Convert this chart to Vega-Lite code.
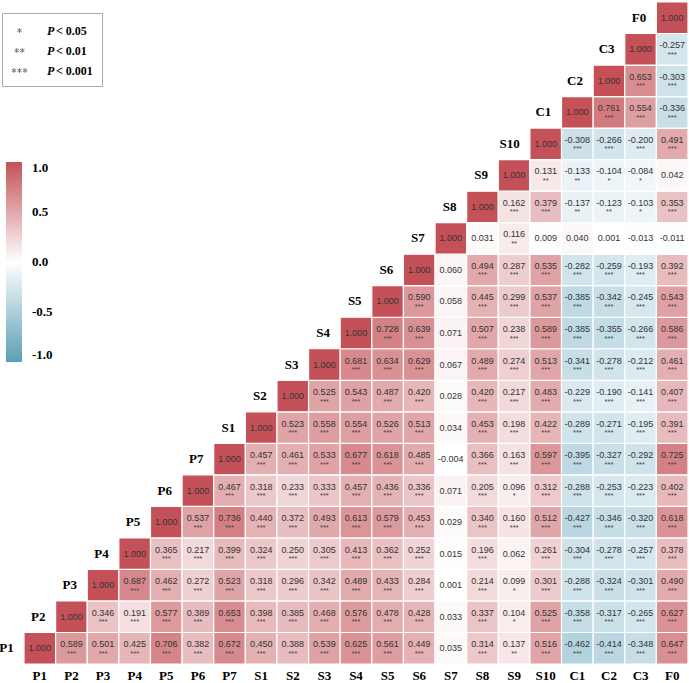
{
  "$schema": "https://vega.github.io/schema/vega-lite/v6.json",
  "width": 664,
  "height": 662,
  "autosize": {"type": "none"},
  "padding": {"left": 24, "top": 2, "right": 1, "bottom": 19},
  "background": "white",
  "config": {"view": {"stroke": null}},
  "layer": [
    {
      "data": {"values": [
        {"r":"P1","c":"P1","v":1,"s":""},{"r":"P1","c":"P2","v":0.589,"s":"***"},{"r":"P1","c":"P3","v":0.501,"s":"***"},{"r":"P1","c":"P4","v":0.425,"s":"***"},{"r":"P1","c":"P5","v":0.706,"s":"***"},{"r":"P1","c":"P6","v":0.382,"s":"***"},{"r":"P1","c":"P7","v":0.672,"s":"***"},{"r":"P1","c":"S1","v":0.450,"s":"***"},{"r":"P1","c":"S2","v":0.388,"s":"***"},{"r":"P1","c":"S3","v":0.539,"s":"***"},{"r":"P1","c":"S4","v":0.625,"s":"***"},{"r":"P1","c":"S5","v":0.561,"s":"***"},{"r":"P1","c":"S6","v":0.449,"s":"***"},{"r":"P1","c":"S7","v":0.035,"s":""},{"r":"P1","c":"S8","v":0.314,"s":"***"},{"r":"P1","c":"S9","v":0.137,"s":"**"},{"r":"P1","c":"S10","v":0.516,"s":"***"},{"r":"P1","c":"C1","v":-0.462,"s":"***"},{"r":"P1","c":"C2","v":-0.414,"s":"***"},{"r":"P1","c":"C3","v":-0.348,"s":"***"},{"r":"P1","c":"F0","v":0.647,"s":"***"},
        {"r":"P2","c":"P2","v":1,"s":""},{"r":"P2","c":"P3","v":0.346,"s":"***"},{"r":"P2","c":"P4","v":0.191,"s":"***"},{"r":"P2","c":"P5","v":0.577,"s":"***"},{"r":"P2","c":"P6","v":0.389,"s":"***"},{"r":"P2","c":"P7","v":0.653,"s":"***"},{"r":"P2","c":"S1","v":0.398,"s":"***"},{"r":"P2","c":"S2","v":0.385,"s":"***"},{"r":"P2","c":"S3","v":0.468,"s":"***"},{"r":"P2","c":"S4","v":0.576,"s":"***"},{"r":"P2","c":"S5","v":0.478,"s":"***"},{"r":"P2","c":"S6","v":0.428,"s":"***"},{"r":"P2","c":"S7","v":0.033,"s":""},{"r":"P2","c":"S8","v":0.337,"s":"***"},{"r":"P2","c":"S9","v":0.104,"s":"*"},{"r":"P2","c":"S10","v":0.525,"s":"***"},{"r":"P2","c":"C1","v":-0.358,"s":"***"},{"r":"P2","c":"C2","v":-0.317,"s":"***"},{"r":"P2","c":"C3","v":-0.265,"s":"***"},{"r":"P2","c":"F0","v":0.627,"s":"***"},
        {"r":"P3","c":"P3","v":1,"s":""},{"r":"P3","c":"P4","v":0.687,"s":"***"},{"r":"P3","c":"P5","v":0.462,"s":"***"},{"r":"P3","c":"P6","v":0.272,"s":"***"},{"r":"P3","c":"P7","v":0.523,"s":"***"},{"r":"P3","c":"S1","v":0.318,"s":"***"},{"r":"P3","c":"S2","v":0.296,"s":"***"},{"r":"P3","c":"S3","v":0.342,"s":"***"},{"r":"P3","c":"S4","v":0.489,"s":"***"},{"r":"P3","c":"S5","v":0.433,"s":"***"},{"r":"P3","c":"S6","v":0.284,"s":"***"},{"r":"P3","c":"S7","v":0.001,"s":""},{"r":"P3","c":"S8","v":0.214,"s":"***"},{"r":"P3","c":"S9","v":0.099,"s":"*"},{"r":"P3","c":"S10","v":0.301,"s":"***"},{"r":"P3","c":"C1","v":-0.288,"s":"***"},{"r":"P3","c":"C2","v":-0.324,"s":"***"},{"r":"P3","c":"C3","v":-0.301,"s":"***"},{"r":"P3","c":"F0","v":0.490,"s":"***"},
        {"r":"P4","c":"P4","v":1,"s":""},{"r":"P4","c":"P5","v":0.365,"s":"***"},{"r":"P4","c":"P6","v":0.217,"s":"***"},{"r":"P4","c":"P7","v":0.399,"s":"***"},{"r":"P4","c":"S1","v":0.324,"s":"***"},{"r":"P4","c":"S2","v":0.250,"s":"***"},{"r":"P4","c":"S3","v":0.305,"s":"***"},{"r":"P4","c":"S4","v":0.413,"s":"***"},{"r":"P4","c":"S5","v":0.362,"s":"***"},{"r":"P4","c":"S6","v":0.252,"s":"***"},{"r":"P4","c":"S7","v":0.015,"s":""},{"r":"P4","c":"S8","v":0.196,"s":"***"},{"r":"P4","c":"S9","v":0.062,"s":""},{"r":"P4","c":"S10","v":0.261,"s":"***"},{"r":"P4","c":"C1","v":-0.304,"s":"***"},{"r":"P4","c":"C2","v":-0.278,"s":"***"},{"r":"P4","c":"C3","v":-0.257,"s":"***"},{"r":"P4","c":"F0","v":0.378,"s":"***"},
        {"r":"P5","c":"P5","v":1,"s":""},{"r":"P5","c":"P6","v":0.537,"s":"***"},{"r":"P5","c":"P7","v":0.736,"s":"***"},{"r":"P5","c":"S1","v":0.440,"s":"***"},{"r":"P5","c":"S2","v":0.372,"s":"***"},{"r":"P5","c":"S3","v":0.493,"s":"***"},{"r":"P5","c":"S4","v":0.613,"s":"***"},{"r":"P5","c":"S5","v":0.579,"s":"***"},{"r":"P5","c":"S6","v":0.453,"s":"***"},{"r":"P5","c":"S7","v":0.029,"s":""},{"r":"P5","c":"S8","v":0.340,"s":"***"},{"r":"P5","c":"S9","v":0.160,"s":"***"},{"r":"P5","c":"S10","v":0.512,"s":"***"},{"r":"P5","c":"C1","v":-0.427,"s":"***"},{"r":"P5","c":"C2","v":-0.346,"s":"***"},{"r":"P5","c":"C3","v":-0.320,"s":"***"},{"r":"P5","c":"F0","v":0.618,"s":"***"},
        {"r":"P6","c":"P6","v":1,"s":""},{"r":"P6","c":"P7","v":0.467,"s":"***"},{"r":"P6","c":"S1","v":0.318,"s":"***"},{"r":"P6","c":"S2","v":0.233,"s":"***"},{"r":"P6","c":"S3","v":0.333,"s":"***"},{"r":"P6","c":"S4","v":0.457,"s":"***"},{"r":"P6","c":"S5","v":0.436,"s":"***"},{"r":"P6","c":"S6","v":0.336,"s":"***"},{"r":"P6","c":"S7","v":0.071,"s":""},{"r":"P6","c":"S8","v":0.205,"s":"***"},{"r":"P6","c":"S9","v":0.096,"s":"*"},{"r":"P6","c":"S10","v":0.312,"s":"***"},{"r":"P6","c":"C1","v":-0.288,"s":"***"},{"r":"P6","c":"C2","v":-0.253,"s":"***"},{"r":"P6","c":"C3","v":-0.223,"s":"***"},{"r":"P6","c":"F0","v":0.402,"s":"***"},
        {"r":"P7","c":"P7","v":1,"s":""},{"r":"P7","c":"S1","v":0.457,"s":"***"},{"r":"P7","c":"S2","v":0.461,"s":"***"},{"r":"P7","c":"S3","v":0.533,"s":"***"},{"r":"P7","c":"S4","v":0.677,"s":"***"},{"r":"P7","c":"S5","v":0.618,"s":"***"},{"r":"P7","c":"S6","v":0.485,"s":"***"},{"r":"P7","c":"S7","v":-0.004,"s":""},{"r":"P7","c":"S8","v":0.366,"s":"***"},{"r":"P7","c":"S9","v":0.163,"s":"***"},{"r":"P7","c":"S10","v":0.597,"s":"***"},{"r":"P7","c":"C1","v":-0.395,"s":"***"},{"r":"P7","c":"C2","v":-0.327,"s":"***"},{"r":"P7","c":"C3","v":-0.292,"s":"***"},{"r":"P7","c":"F0","v":0.725,"s":"***"},
        {"r":"S1","c":"S1","v":1,"s":""},{"r":"S1","c":"S2","v":0.523,"s":"***"},{"r":"S1","c":"S3","v":0.558,"s":"***"},{"r":"S1","c":"S4","v":0.554,"s":"***"},{"r":"S1","c":"S5","v":0.526,"s":"***"},{"r":"S1","c":"S6","v":0.513,"s":"***"},{"r":"S1","c":"S7","v":0.034,"s":""},{"r":"S1","c":"S8","v":0.453,"s":"***"},{"r":"S1","c":"S9","v":0.198,"s":"***"},{"r":"S1","c":"S10","v":0.422,"s":"***"},{"r":"S1","c":"C1","v":-0.289,"s":"***"},{"r":"S1","c":"C2","v":-0.271,"s":"***"},{"r":"S1","c":"C3","v":-0.195,"s":"***"},{"r":"S1","c":"F0","v":0.391,"s":"***"},
        {"r":"S2","c":"S2","v":1,"s":""},{"r":"S2","c":"S3","v":0.525,"s":"***"},{"r":"S2","c":"S4","v":0.543,"s":"***"},{"r":"S2","c":"S5","v":0.487,"s":"***"},{"r":"S2","c":"S6","v":0.420,"s":"***"},{"r":"S2","c":"S7","v":0.028,"s":""},{"r":"S2","c":"S8","v":0.420,"s":"***"},{"r":"S2","c":"S9","v":0.217,"s":"***"},{"r":"S2","c":"S10","v":0.483,"s":"***"},{"r":"S2","c":"C1","v":-0.229,"s":"***"},{"r":"S2","c":"C2","v":-0.190,"s":"***"},{"r":"S2","c":"C3","v":-0.141,"s":"***"},{"r":"S2","c":"F0","v":0.407,"s":"***"},
        {"r":"S3","c":"S3","v":1,"s":""},{"r":"S3","c":"S4","v":0.681,"s":"***"},{"r":"S3","c":"S5","v":0.634,"s":"***"},{"r":"S3","c":"S6","v":0.629,"s":"***"},{"r":"S3","c":"S7","v":0.067,"s":""},{"r":"S3","c":"S8","v":0.489,"s":"***"},{"r":"S3","c":"S9","v":0.274,"s":"***"},{"r":"S3","c":"S10","v":0.513,"s":"***"},{"r":"S3","c":"C1","v":-0.341,"s":"***"},{"r":"S3","c":"C2","v":-0.278,"s":"***"},{"r":"S3","c":"C3","v":-0.212,"s":"***"},{"r":"S3","c":"F0","v":0.461,"s":"***"},
        {"r":"S4","c":"S4","v":1,"s":""},{"r":"S4","c":"S5","v":0.728,"s":"***"},{"r":"S4","c":"S6","v":0.639,"s":"***"},{"r":"S4","c":"S7","v":0.071,"s":""},{"r":"S4","c":"S8","v":0.507,"s":"***"},{"r":"S4","c":"S9","v":0.238,"s":"***"},{"r":"S4","c":"S10","v":0.589,"s":"***"},{"r":"S4","c":"C1","v":-0.385,"s":"***"},{"r":"S4","c":"C2","v":-0.355,"s":"***"},{"r":"S4","c":"C3","v":-0.266,"s":"***"},{"r":"S4","c":"F0","v":0.586,"s":"***"},
        {"r":"S5","c":"S5","v":1,"s":""},{"r":"S5","c":"S6","v":0.590,"s":"***"},{"r":"S5","c":"S7","v":0.058,"s":""},{"r":"S5","c":"S8","v":0.445,"s":"***"},{"r":"S5","c":"S9","v":0.299,"s":"***"},{"r":"S5","c":"S10","v":0.537,"s":"***"},{"r":"S5","c":"C1","v":-0.385,"s":"***"},{"r":"S5","c":"C2","v":-0.342,"s":"***"},{"r":"S5","c":"C3","v":-0.245,"s":"***"},{"r":"S5","c":"F0","v":0.543,"s":"***"},
        {"r":"S6","c":"S6","v":1,"s":""},{"r":"S6","c":"S7","v":0.060,"s":""},{"r":"S6","c":"S8","v":0.494,"s":"***"},{"r":"S6","c":"S9","v":0.287,"s":"***"},{"r":"S6","c":"S10","v":0.535,"s":"***"},{"r":"S6","c":"C1","v":-0.282,"s":"***"},{"r":"S6","c":"C2","v":-0.259,"s":"***"},{"r":"S6","c":"C3","v":-0.193,"s":"***"},{"r":"S6","c":"F0","v":0.392,"s":"***"},
        {"r":"S7","c":"S7","v":1,"s":""},{"r":"S7","c":"S8","v":0.031,"s":""},{"r":"S7","c":"S9","v":0.116,"s":"**"},{"r":"S7","c":"S10","v":0.009,"s":""},{"r":"S7","c":"C1","v":0.040,"s":""},{"r":"S7","c":"C2","v":0.001,"s":""},{"r":"S7","c":"C3","v":-0.013,"s":""},{"r":"S7","c":"F0","v":-0.011,"s":""},
        {"r":"S8","c":"S8","v":1,"s":""},{"r":"S8","c":"S9","v":0.162,"s":"***"},{"r":"S8","c":"S10","v":0.379,"s":"***"},{"r":"S8","c":"C1","v":-0.137,"s":"**"},{"r":"S8","c":"C2","v":-0.123,"s":"**"},{"r":"S8","c":"C3","v":-0.103,"s":"*"},{"r":"S8","c":"F0","v":0.353,"s":"***"},
        {"r":"S9","c":"S9","v":1,"s":""},{"r":"S9","c":"S10","v":0.131,"s":"**"},{"r":"S9","c":"C1","v":-0.133,"s":"**"},{"r":"S9","c":"C2","v":-0.104,"s":"*"},{"r":"S9","c":"C3","v":-0.084,"s":"*"},{"r":"S9","c":"F0","v":0.042,"s":""},
        {"r":"S10","c":"S10","v":1,"s":""},{"r":"S10","c":"C1","v":-0.308,"s":"***"},{"r":"S10","c":"C2","v":-0.266,"s":"***"},{"r":"S10","c":"C3","v":-0.200,"s":"***"},{"r":"S10","c":"F0","v":0.491,"s":"***"},
        {"r":"C1","c":"C1","v":1,"s":""},{"r":"C1","c":"C2","v":0.761,"s":"***"},{"r":"C1","c":"C3","v":0.554,"s":"***"},{"r":"C1","c":"F0","v":-0.336,"s":"***"},
        {"r":"C2","c":"C2","v":1,"s":""},{"r":"C2","c":"C3","v":0.653,"s":"***"},{"r":"C2","c":"F0","v":-0.303,"s":"***"},
        {"r":"C3","c":"C3","v":1,"s":""},{"r":"C3","c":"F0","v":-0.257,"s":"***"},
        {"r":"F0","c":"F0","v":1,"s":""}
      ]},
      "transform": [
        {"calculate": "(datum.v < 0 ? '-' : '') + format(abs(datum.v), '.3f')", "as": "lbl"}
      ],
      "encoding": {
        "x": {
          "field": "c", "type": "ordinal",
          "sort": ["P1","P2","P3","P4","P5","P6","P7","S1","S2","S3","S4","S5","S6","S7","S8","S9","S10","C1","C2","C3","F0"],
          "scale": {"paddingInner": 0, "paddingOuter": 0},
          "axis": {
            "orient": "bottom", "title": null, "labelAngle": 0, "ticks": false, "domain": false,
            "labelFont": "Liberation Serif", "labelFontWeight": "bold", "labelFontSize": 13,
            "labelColor": "#000000", "labelPadding": 5
          }
        },
        "y": {
          "field": "r", "type": "ordinal",
          "sort": ["F0","C3","C2","C1","S10","S9","S8","S7","S6","S5","S4","S3","S2","S1","P7","P6","P5","P4","P3","P2","P1"],
          "scale": {"paddingInner": 0, "paddingOuter": 0},
          "axis": null
        }
      },
      "layer": [
        {
          "mark": {"type": "rect", "stroke": "#ffffff", "strokeWidth": 1.2},
          "encoding": {
            "color": {
              "field": "v", "type": "quantitative",
              "scale": {"domain": [-1, 0, 1], "range": ["#5a9fb8", "#ffffff", "#c45157"], "interpolate": "rgb"},
              "legend": {
                "orient": "none", "legendX": -18, "legendY": 160, "direction": "vertical",
                "title": null, "gradientLength": 200, "gradientThickness": 16, "gradientStrokeWidth": 0,
                "values": [-1, -0.5, 0, 0.5, 1],
                "labelExpr": "datum.value < 0 ? '-' + format(-datum.value, '.1f') : format(datum.value, '.1f')",
                "labelFont": "Liberation Serif", "labelFontWeight": "bold", "labelFontSize": 13,
                "labelColor": "#000000", "labelOffset": 10, "labelBaseline": "middle", "labelOverlap": false
              }
            }
          }
        },
        {
          "transform": [{"filter": "datum.s != ''"}],
          "mark": {"type": "text", "font": "Liberation Sans", "fontSize": 9, "color": "#333333", "dy": -4},
          "encoding": {"text": {"field": "lbl"}}
        },
        {
          "transform": [{"filter": "datum.s == ''"}],
          "mark": {"type": "text", "font": "Liberation Sans", "fontSize": 9, "color": "#333333"},
          "encoding": {"text": {"field": "lbl"}}
        },
        {
          "transform": [{"filter": "datum.s != ''"}],
          "mark": {"type": "text", "font": "Liberation Sans", "fontSize": 7.5, "color": "#444444", "dy": 5.5},
          "encoding": {"text": {"field": "s"}}
        },
        {
          "transform": [{"filter": "datum.r == datum.c"}],
          "mark": {"type": "text", "font": "Liberation Serif", "fontWeight": "bold", "fontSize": 13, "color": "#000000", "align": "right", "dx": -26},
          "encoding": {"text": {"field": "r"}}
        }
      ]
    },
    {
      "data": {"values": [
        {"thr": "< 0.05", "stars": "*"},
        {"thr": "< 0.01", "stars": "**"},
        {"thr": "< 0.001", "stars": "***"}
      ]},
      "mark": {"type": "point", "opacity": 0},
      "encoding": {
        "shape": {
          "field": "thr", "type": "nominal",
          "scale": {
            "domain": ["< 0.05", "< 0.01", "< 0.001"],
            "range": [
              "M0,-0.3L0,0.3M-0.26,-0.15L0.26,0.15M-0.26,0.15L0.26,-0.15",
              "M-0.35,-0.3L-0.35,0.3M-0.61,-0.15L-0.09,0.15M-0.61,0.15L-0.09,-0.15M0.35,-0.3L0.35,0.3M0.09,-0.15L0.61,0.15M0.09,0.15L0.61,-0.15",
              "M-0.7,-0.3L-0.7,0.3M-0.96,-0.15L-0.44,0.15M-0.96,0.15L-0.44,-0.15M0,-0.3L0,0.3M-0.26,-0.15L0.26,0.15M-0.26,0.15L0.26,-0.15M0.7,-0.3L0.7,0.3M0.44,-0.15L0.96,0.15M0.44,0.15L0.96,-0.15"
            ]
          },
          "legend": {
            "orient": "none", "legendX": -22, "legendY": 11, "title": null,
            "strokeColor": "#aaaaaa", "padding": 9, "rowPadding": 5,
            "symbolSize": 256, "symbolStrokeWidth": 1, "symbolStrokeColor": "#777777", "symbolFillColor": "transparent", "symbolOpacity": 1,
            "labelExpr": "datum.label + '  '",
            "labelFont": "Liberation Serif", "labelFontWeight": "bold", "labelFontSize": 12, "labelColor": "#000000",
            "labelOffset": 28, "labelBaseline": "middle",
            "encode": {"symbols": {"update": {"opacity": {"value": 1}, "stroke": {"value": "#777777"}, "fill": {"value": "transparent"}, "strokeWidth": {"value": 1}}}}
          }
        },
        "strokeDash": {
          "field": "stars", "type": "nominal",
          "legend": {
            "orient": "none", "legendX": -22, "legendY": 11, "title": null,
            "padding": 9, "rowPadding": 5, "symbolSize": 256, "symbolOpacity": 0,
            "symbolType": "M-0.7,-0.3L-0.7,0.3M-0.96,-0.15L-0.44,0.15M-0.96,0.15L-0.44,-0.15M0,-0.3L0,0.3M-0.26,-0.15L0.26,0.15M-0.26,0.15L0.26,-0.15M0.7,-0.3L0.7,0.3M0.44,-0.15L0.96,0.15M0.44,0.15L0.96,-0.15",
            "labelExpr": "'P'",
            "labelFont": "Liberation Serif", "labelFontWeight": "bold", "labelFontStyle": "italic", "labelFontSize": 12, "labelColor": "#000000",
            "labelOffset": 18, "labelBaseline": "middle",
            "encode": {"symbols": {"update": {"opacity": {"value": 0}, "shape": {"value": "M-0.7,-0.3L-0.7,0.3M-0.96,-0.15L-0.44,0.15M-0.96,0.15L-0.44,-0.15M0,-0.3L0,0.3M-0.26,-0.15L0.26,0.15M-0.26,0.15L0.26,-0.15M0.7,-0.3L0.7,0.3M0.44,-0.15L0.96,0.15M0.44,0.15L0.96,-0.15"}}}}
          }
        }
      }
    }
  ]
}
